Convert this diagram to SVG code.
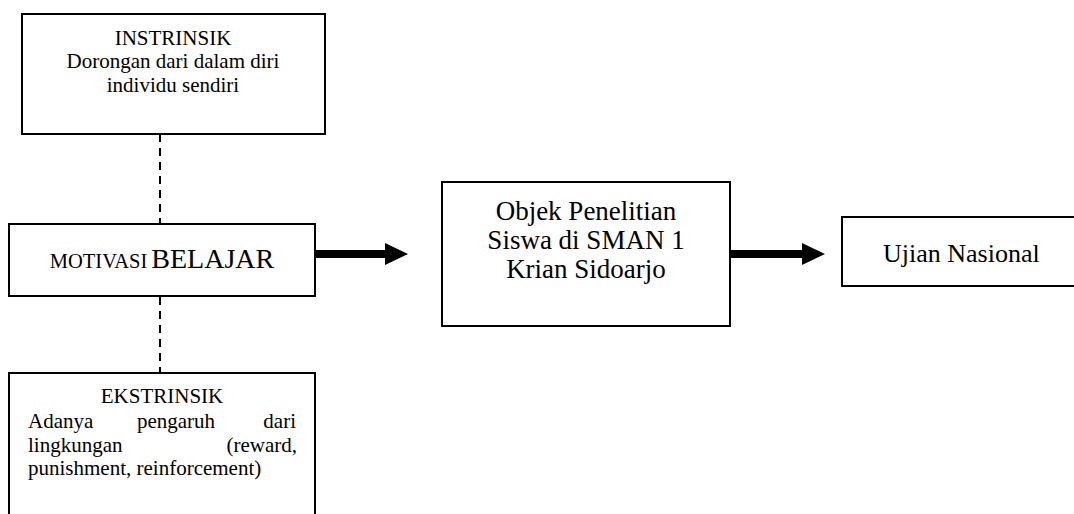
<svg xmlns="http://www.w3.org/2000/svg" width="1074" height="514" viewBox="0 0 1074 514">
<defs>
<marker id="head" markerUnits="userSpaceOnUse" markerWidth="23" markerHeight="22" refX="0" refY="11" orient="auto" overflow="visible">
<path d="M0,0 L23,11 L0,22 Z" fill="#000"/>
</marker>
<style>
.box{fill:#fff;stroke:#000;stroke-width:2}
text{font-family:'Liberation Serif','Times New Roman',serif;fill:#000}
.s{font-size:21px}
.m{font-size:26px}
.l{font-size:27px}
.c{text-anchor:middle}
.e{text-anchor:end}
.dash{stroke:#000;stroke-width:2;stroke-dasharray:8 6;fill:none}
.arrow{stroke:#000;stroke-width:8;fill:none;marker-end:url(#head)}
</style>
</defs>
<rect width="1074" height="514" fill="#fff"/>
<g id="connectors">
<line class="dash" x1="160" y1="134" x2="160" y2="223"/>
<line class="dash" x1="160" y1="297" x2="160" y2="373"/>
<line class="arrow" x1="315" y1="254" x2="385" y2="254"/>
<line class="arrow" x1="730" y1="254" x2="802" y2="254"/>
</g>
<g id="instrinsik">
<rect class="box" x="22" y="14" width="303" height="120"/>
<text class="s c" x="173" y="45">INSTRINSIK</text>
<text class="s c" x="173" y="68">Dorongan dari dalam diri</text>
<text class="s c" x="173" y="92">individu sendiri</text>
</g>
<g id="motivasi">
<rect class="box" x="9" y="224" width="306" height="72"/>
<text class="c" x="162" y="268"><tspan font-size="20.5">MOTIVASI</tspan> <tspan font-size="28">BELAJAR</tspan></text>
</g>
<g id="ekstrinsik">
<rect class="box" x="9" y="373" width="306" height="160"/>
<text class="s c" x="162" y="403">EKSTRINSIK</text>
<text class="s" x="28" y="428">Adanya</text>
<text class="s c" x="176" y="428">pengaruh</text>
<text class="s e" x="296" y="428">dari</text>
<text class="s" x="28" y="452">lingkungan</text>
<text class="s e" x="297" y="452">(reward,</text>
<text class="s" x="28" y="475">punishment, reinforcement)</text>
</g>
<g id="objek">
<rect class="box" x="442" y="182" width="288" height="144"/>
<text class="l c" x="586" y="220">Objek Penelitian</text>
<text class="l c" x="586" y="249">Siswa di SMAN 1</text>
<text class="l c" x="586" y="278">Krian Sidoarjo</text>
</g>
<g id="ujian">
<rect class="box" x="842" y="217" width="240" height="69"/>
<text class="m" x="883" y="262">Ujian Nasional</text>
</g>
</svg>
